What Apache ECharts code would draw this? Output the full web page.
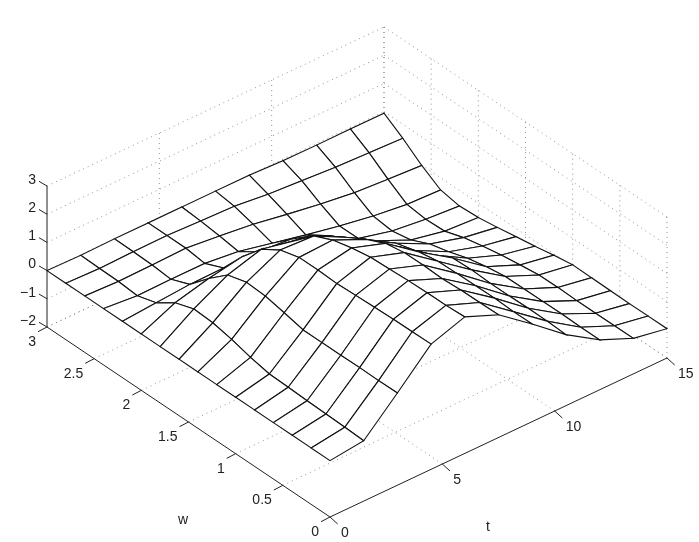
<!DOCTYPE html>
<html>
<head>
<meta charset="utf-8">
<style>
  html, body { margin: 0; padding: 0; background: #fff; }
  #chart { width: 699px; height: 542px; }
</style>
<script src="https://cdn.jsdelivr.net/npm/echarts@6/dist/echarts.min.js"></script>
</head>
<body>
<div id="chart"></div>
<script>
// mesh nodes
const tValues = [0, 1.5, 3, 4.5, 6, 7.5, 9, 10.5, 12, 13.5, 15]
const wValues = [0, 0.2, 0.4, 0.6, 0.8, 1, 1.2, 1.4, 1.6, 1.8, 2, 2.2, 2.4, 2.6, 2.8, 3]
// one row per t, one value per w
const zByT = [
  [0, 0, 0, 0, 0, 0, 0, 0, 0, 0, 0, 0, 0, 0, 0, 0],
  [0.14, 0.17, 0.19, 0.21, 0.24, 0.26, 0.4, 0.59, 0.73, 0.77, 0.54, 0.09, -0.11, -0.05, -0.04, -0.02],
  [1.27, 1.26, 1.27, 1.26, 1.26, 1.26, 1.42, 1.56, 1.6, 1.41, 0.84, 0.18, -0.09, -0.03, -0.01, 0],
  [2.44, 2.43, 2.42, 2.4, 2.37, 2.34, 2.37, 2.37, 2.18, 1.76, 1.05, 0.2, -0.09, 0, 0, 0],
  [2.84, 2.8, 2.8, 2.78, 2.74, 2.71, 2.59, 2.42, 2.12, 1.5, 0.87, 0.2, -0.23, -0.13, -0.05, 0],
  [2.35, 2.34, 2.33, 2.29, 2.32, 2.31, 2.19, 1.88, 1.5, 1.1, 0.65, 0.09, -0.5, -0.28, -0.09, 0],
  [1.46, 1.45, 1.48, 1.47, 1.46, 1.44, 1.32, 1.05, 0.74, 0.4, 0.02, -0.34, -0.77, -0.49, -0.23, 0],
  [0.52, 0.55, 0.56, 0.54, 0.54, 0.57, 0.54, 0.2, -0.09, -0.28, -0.64, -1.01, -1.02, -0.69, -0.31, -0.05],
  [-0.23, -0.23, -0.21, -0.22, -0.22, -0.23, -0.33, -0.48, -0.7, -0.87, -1.18, -1.31, -1.23, -0.85, -0.4, -0.06],
  [-0.74, -0.74, -0.75, -0.75, -0.73, -0.74, -0.83, -0.93, -1.06, -1.21, -1.43, -1.46, -1.38, -0.94, -0.45, -0.05],
  [-0.96, -0.96, -0.97, -0.96, -0.95, -0.94, -1.05, -1.18, -1.29, -1.41, -1.51, -1.55, -1.43, -1.01, -0.5, -0.06]
]
// axis ticks
const tTicks = [0, 5, 10, 15]
const wTicks = [0, 0.5, 1, 1.5, 2, 2.5, 3]
const zTicks = [-2, -1, 0, 1, 2, 3]
const zTickLabels = ['\u22122', '\u22121', '0', '1', '2', '3']
const axisNames = ['w', 't']

// orthographic view of the box, in page pixels
function project(t, w, z) {
  return [
    330 + (t / 15) * 337 - (w / 3) * 283,
    517 - (t / 15) * 159 - (w / 3) * 190 - (z + 2) * 28.2
  ]
}

// dotted grid on the floor and the two back walls
const gridSegments = []
tTicks.slice(1).forEach(t => {
  gridSegments.push([t, 0, -2, t, 3, -2])
  gridSegments.push([t, 3, -2, t, 3, 3])
})
wTicks.slice(1).forEach(w => {
  gridSegments.push([0, w, -2, 15, w, -2])
})
wTicks.forEach(w => {
  gridSegments.push([15, w, -2, 15, w, 3])
})
zTicks.forEach(z => {
  gridSegments.push([0, 3, z, 15, 3, z])
  gridSegments.push([15, 0, z, 15, 3, z])
})

const axisSegments = [
  [0, 0, -2, 15, 0, -2],
  [0, 0, -2, 0, 3, -2],
  [0, 3, -2, 0, 3, 3]
]

// back to front so the white faces hide what is behind them
const quads = []
for (let i = tValues.length - 2; i >= 0; i--) {
  for (let j = wValues.length - 2; j >= 0; j--) {
    quads.push([i, j])
  }
}

function renderSegment(params, api) {
  const a = api.coord(project(api.value(0), api.value(1), api.value(2)))
  const b = api.coord(project(api.value(3), api.value(4), api.value(5)))
  return {
    type: 'line',
    shape: { x1: a[0], y1: a[1], x2: b[0], y2: b[1] },
    style: api.style({ fill: null })
  }
}

function renderQuad(params, api) {
  const i = api.value(0)
  const j = api.value(1)
  const node = (a, b) => api.coord(project(tValues[a], wValues[b], zByT[a][b]))
  return {
    type: 'polygon',
    shape: { points: [node(i, j), node(i + 1, j), node(i + 1, j + 1), node(i, j + 1)] },
    style: { fill: '#fff', stroke: '#111', lineWidth: 1.1 }
  }
}

const labelFont = { fontFamily: 'Liberation Sans', fontSize: 14, fill: '#222' }

// tick mark plus its number, offsets are page pixels from the axis
function tickItem(api, base, tick, offset, align, text) {
  const p = api.coord(base)
  return {
    type: 'group',
    children: [
      {
        type: 'line',
        shape: { x1: p[0], y1: p[1], x2: p[0] + tick[0], y2: p[1] + tick[1] },
        style: { stroke: '#222', lineWidth: 1 }
      },
      {
        type: 'text',
        x: p[0] + offset[0],
        y: p[1] + offset[1],
        style: Object.assign({ text: text, textAlign: align, textVerticalAlign: 'middle' }, labelFont)
      }
    ]
  }
}

const chart = echarts.init(document.getElementById('chart'), null, { renderer: 'canvas' })
chart.setOption({
  animation: false,
  backgroundColor: '#fff',
  grid: { left: 0, right: 0, top: 0, bottom: 0 },
  xAxis: { type: 'value', min: 0, max: 699, show: false },
  yAxis: { type: 'value', min: 0, max: 542, inverse: true, show: false },
  series: [
    {
      type: 'custom',
      silent: true,
      renderItem: renderSegment,
      data: gridSegments,
      itemStyle: { color: 'none', borderColor: '#777', borderWidth: 0.8, borderType: [1, 4] }
    },
    {
      type: 'custom',
      silent: true,
      renderItem: renderSegment,
      data: axisSegments,
      itemStyle: { color: 'none', borderColor: '#222', borderWidth: 1 }
    },
    {
      type: 'custom',
      silent: true,
      renderItem: renderQuad,
      data: quads
    },
    {
      type: 'custom',
      silent: true,
      renderItem: (params, api) => tickItem(api, project(0, 3, api.value(0)), [-8, -4.7], [-11, -6], 'right', zTickLabels[params.dataIndex]),
      data: zTicks.map(z => [z])
    },
    {
      type: 'custom',
      silent: true,
      renderItem: (params, api) => tickItem(api, project(api.value(0), 0, -2), [7.7, 7], [11, 16], 'left', String(api.value(0))),
      data: tTicks.map(t => [t])
    },
    {
      type: 'custom',
      silent: true,
      renderItem: (params, api) => tickItem(api, project(0, api.value(0), -2), [-9, 4.7], [-11, 15], 'right', String(api.value(0))),
      data: wTicks.map(w => [w])
    },
    {
      type: 'custom',
      silent: true,
      renderItem: (params, api) => {
        const p = api.coord([api.value(0), api.value(1)])
        return {
          type: 'text',
          x: p[0],
          y: p[1],
          style: Object.assign({ text: axisNames[params.dataIndex], textAlign: 'center', textVerticalAlign: 'middle' }, labelFont)
        }
      },
      data: [[183, 520], [488, 527]]
    }
  ]
})
</script>
</body>
</html>
